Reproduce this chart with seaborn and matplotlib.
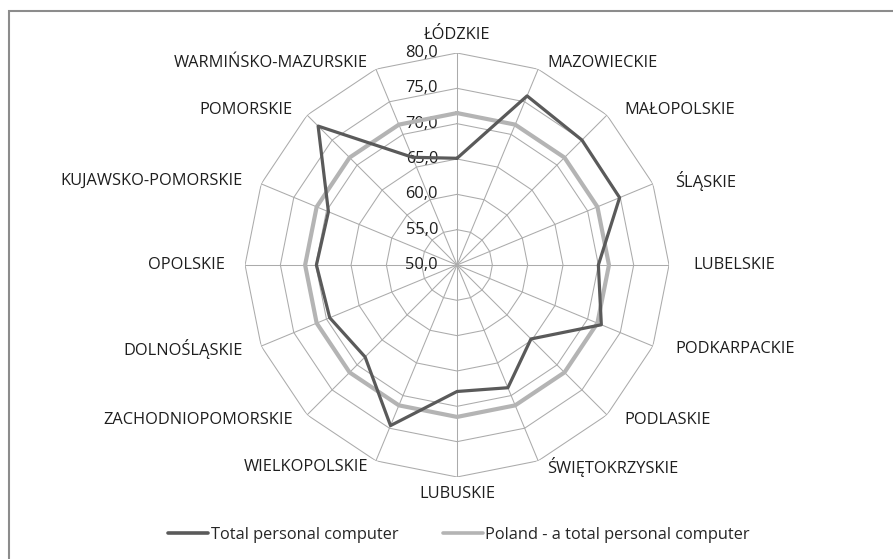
import numpy as np
import pandas as pd
import seaborn as sns
import matplotlib.pyplot as plt
from matplotlib.patches import Rectangle

regions = ['ŁÓDZKIE', 'MAZOWIECKIE', 'MAŁOPOLSKIE', 'ŚLĄSKIE', 'LUBELSKIE',
           'PODKARPACKIE', 'PODLASKIE', 'ŚWIĘTOKRZYSKIE', 'LUBUSKIE',
           'WIELKOPOLSKIE', 'ZACHODNIOPOMORSKIE', 'DOLNOŚLĄSKIE', 'OPOLSKIE',
           'KUJAWSKO-POMORSKIE', 'POMORSKIE', 'WARMIŃSKO-MAZURSKIE']
total_pc = [65.1, 75.9, 75.0, 74.9, 70.0, 72.1, 64.8, 68.8,
            67.9, 74.6, 68.4, 69.5, 69.9, 69.7, 77.8, 66.5]
poland_pc = [71.5, 71.5, 71.5, 71.5, 71.5, 71.5, 71.5, 71.5,
             71.5, 71.5, 71.5, 71.5, 71.5, 71.5, 71.5, 71.5]
series_names = ['Total personal computer', 'Poland - a total personal computer']
r_ticks = [50, 55, 60, 65, 70, 75, 80]

sns.set_style('white')
plt.rcParams['font.family'] = ['Open Sans', 'DejaVu Sans']
fs = 11.8
txt_col = '#1e1e1e'

n = len(regions)
angles = np.linspace(0, 2 * np.pi, n, endpoint=False)
ang_closed = np.append(angles, angles[0])

rows = []
for name, vals in zip(series_names, [total_pc, poland_pc]):
    for a, v in zip(ang_closed, vals + vals[:1]):
        rows.append({'angle': a, 'value': v, 'series': name})
df = pd.DataFrame(rows)

fig = plt.figure(figsize=(8.93, 5.59), dpi=100)
ax = fig.add_axes([0.2744, 0.1467, 0.4748, 0.7585], projection='polar')
ax.set_theta_zero_location('N')
ax.set_theta_direction(-1)
ax.set_ylim(r_ticks[0], r_ticks[-1])
ax.grid(False)
ax.spines['polar'].set_visible(False)
ax.set_xticks([])
ax.set_yticks([])
ax.patch.set_alpha(0)

grid_col = '#ababab'
for r in r_ticks[1:]:
    ax.plot(ang_closed, [r] * (n + 1), color=grid_col, lw=0.75, zorder=1)
for a in angles:
    ax.plot([a, a], [r_ticks[0], r_ticks[-1]], color=grid_col, lw=0.75, zorder=1)

# light (Poland) line first, then the regional one on top
sns.lineplot(data=df[df.series == series_names[1]], x='angle', y='value',
             sort=False, estimator=None, color='#b4b4b4', linewidth=3.0,
             ax=ax, legend=False, zorder=3)
sns.lineplot(data=df[df.series == series_names[0]], x='angle', y='value',
             sort=False, estimator=None, color='#5a5a5a', linewidth=2.3,
             ax=ax, legend=False, zorder=4)
ax.set_xlabel('')
ax.set_ylabel('')

for r in r_ticks:
    ax.annotate(f'{r:.1f}'.replace('.', ','), xy=(0, r), xytext=(-19, 0),
                textcoords='offset pixels', ha='right', va='center',
                fontsize=fs, color=txt_col, zorder=2)

for a, name in zip(angles, regions):
    s, c = np.sin(a), np.cos(a)
    if abs(s) < 1e-6:
        dy = 18 if c > 0 else -17
        ax.annotate(name, xy=(a, r_ticks[-1]), xytext=(0, dy),
                    textcoords='offset pixels', ha='center', va='center',
                    fontsize=fs, color=txt_col)
    else:
        k = 24 if s > 0 else 20
        ax.annotate(name, xy=(a, r_ticks[-1]), xytext=(k * s, 7 * c),
                    textcoords='offset pixels',
                    ha='left' if s > 0 else 'right', va='center',
                    fontsize=fs, color=txt_col)

handles = [plt.Line2D([], [], color='#5a5a5a', lw=2.6),
           plt.Line2D([], [], color='#b4b4b4', lw=2.6)]
fig.legend(handles, series_names, loc='center', bbox_to_anchor=(0.514, 0.043),
           ncol=2, frameon=False, fontsize=fs, handlelength=2.45,
           handletextpad=0.15, columnspacing=2.7)

# chart frame: only its top and left edges fall inside the picture
fig.patches.append(Rectangle((9 / 893, -0.05), 1.0, 1.05 - 11 / 559,
                             transform=fig.transFigure, fill=False,
                             edgecolor='#8c8c8c', lw=1.5))

fig.savefig('out.png', dpi=100)
